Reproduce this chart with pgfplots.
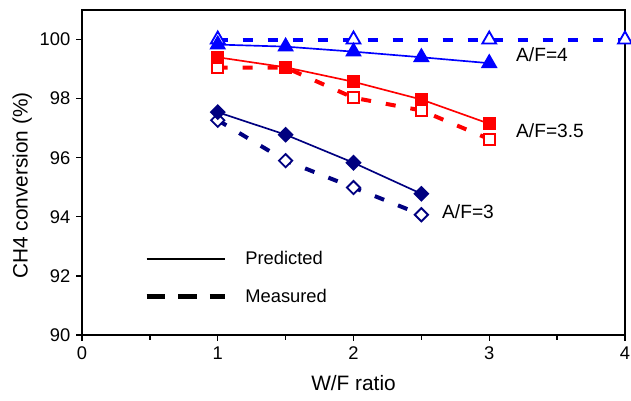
\documentclass[border=0pt]{standalone}
\usepackage{pgfplots}
\pgfplotsset{compat=1.18}
\usepackage{fontspec}
\setmainfont{Liberation Sans}
\definecolor{cblue}{RGB}{0,0,255}
\definecolor{cred}{RGB}{255,0,0}
\definecolor{cnavy}{RGB}{0,0,128}
\begin{document}
\begin{tikzpicture}
\begin{axis}[
 scale only axis, width=325.8pt, height=195pt,
 xmin=0, xmax=4, ymin=90, ymax=101,
 xtick={0,1,2,3,4}, minor xtick={0.5,1.5,2.5,3.5},
 ytick={90,92,94,96,98,100},
 tick align=outside, tick pos=left,
 major tick length=3.5pt, minor tick length=3pt,
 axis line style={line width=1pt},
 every tick/.style={black, line width=0.8pt},
 tick label style={font=\fontsize{11}{13}\selectfont},
 /pgf/number format/assume math mode=true,
 xlabel={W/F ratio}, ylabel={CH4 conversion (\%)},
 label style={font=\fontsize{12.5}{14}\selectfont},
 xlabel style={at={(axis description cs:0.5,-0.148)}, anchor=center},
 ylabel style={at={(axis description cs:-0.11,0.46)}, anchor=center},
 clip=false,
 legend style={draw=none, fill=none, at={(axis description cs:0.105,0.279)}, anchor=north west,
   font=\fontsize{11}{13}\selectfont, row sep=9pt,
   /tikz/every odd column/.append style={column sep=9pt}},
 legend cell align=left,
 legend image code/.code={\draw[#1] (0pt,0pt) -- (47pt,0pt);},
]
\coordinate (bl) at (rel axis cs:0,0);
\coordinate (tr) at (rel axis cs:1,1);
\addlegendimage{black, line width=0.9pt}
\addlegendentry{Predicted}
\addlegendimage{black, line width=2.6pt, dash pattern=on 11pt off 8pt}
\addlegendentry{Measured}
% A/F=4 measured
\addplot[cblue, line width=2.4pt, dash pattern=on 6pt off 9pt, mark=triangle*, mark size=4.8pt,
  mark options={solid, fill=white, draw=cblue, line width=1.1pt}, forget plot]
  coordinates {(1,100) (2,100) (3,100) (4,100)};
% A/F=3.5 measured
\addplot[cred, line width=2.4pt, dash pattern=on 6pt off 9pt, mark=square*, mark size=3.3pt,
  mark options={solid, fill=white, draw=cred, line width=1.1pt}, forget plot]
  coordinates {(1,99.05) (1.5,99.05) (2,98.03) (2.5,97.6) (3,96.63)};
% A/F=3 measured
\addplot[cnavy, line width=2.4pt, dash pattern=on 6pt off 9pt, mark=square*, mark size=2.8pt,
  mark options={solid, rotate=45, fill=white, draw=cnavy, line width=1.1pt}, forget plot]
  coordinates {(1,97.27) (1.5,95.9) (2,94.99) (2.5,94.07)};
% A/F=4 predicted
\addplot[cblue, line width=1pt, mark=triangle*, mark size=4.8pt,
  mark options={solid, fill=cblue}, forget plot]
  coordinates {(1,99.83) (1.5,99.76) (2,99.59) (2.5,99.4) (3,99.2)};
% A/F=3.5 predicted
\addplot[cred, line width=1pt, mark=square*, mark size=3.5pt,
  mark options={solid, fill=cred}, forget plot]
  coordinates {(1,99.4) (1.5,99.06) (2,98.57) (2.5,97.97) (3,97.15)};
% A/F=3 predicted
\addplot[cnavy, line width=1pt, mark=square*, mark size=2.9pt,
  mark options={solid, rotate=45, fill=cnavy}, forget plot]
  coordinates {(1,97.54) (1.5,96.78) (2,95.83) (2.5,94.78)};
\node[anchor=west, font=\fontsize{11.5}{13}\selectfont] at (axis cs:3.155,99.49) {A/F=4};
\node[anchor=west, font=\fontsize{11.5}{13}\selectfont] at (axis cs:3.155,96.92) {A/F=3.5};
\node[anchor=west, font=\fontsize{11.5}{13}\selectfont] at (axis cs:2.61,94.17) {A/F=3};
\end{axis}
\pgfresetboundingbox
\path[use as bounding box] ([xshift=-49.2pt,yshift=-39.6pt]bl) rectangle ([xshift=3.6pt,yshift=6pt]tr);
\end{tikzpicture}
\end{document}
